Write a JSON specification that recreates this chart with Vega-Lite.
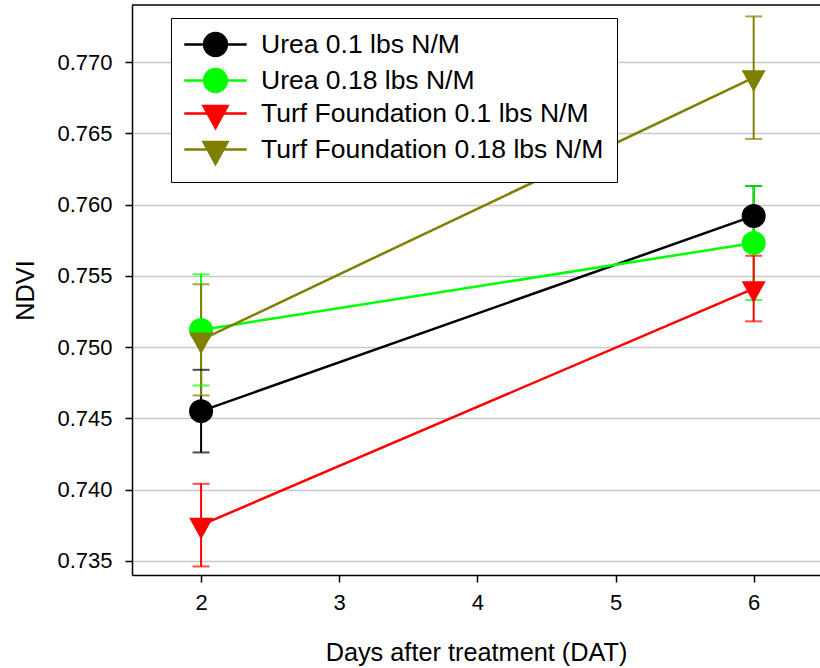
{
  "$schema": "https://vega.github.io/schema/vega-lite/v6.json",
  "width": 688,
  "height": 570,
  "autosize": {"type": "none"},
  "padding": {"left": 132, "top": 5, "right": 0, "bottom": 93},
  "background": "white",
  "config": {
    "view": {"stroke": null},
    "font": "Liberation Sans",
    "axis": {
      "domainColor": "black",
      "domainWidth": 1.5,
      "tickColor": "black",
      "tickWidth": 1.5,
      "tickSize": 7,
      "labelFont": "Liberation Sans",
      "labelFontSize": 22,
      "labelColor": "black",
      "titleFont": "Liberation Sans",
      "titleFontSize": 25.3,
      "titleFontWeight": "normal",
      "titleColor": "black"
    },
    "legend": {
      "orient": "none",
      "legendX": 39,
      "legendY": 13,
      "padding": 13,
      "strokeColor": "black",
      "fillColor": "white",
      "labelFont": "Liberation Sans",
      "labelFontSize": 26.5,
      "labelColor": "black",
      "labelLimit": 600,
      "symbolSize": 576,
      "symbolOffset": 18,
      "labelOffset": 32,
      "rowPadding": 3
    }
  },
  "data": {
    "values": [
      {"series": "Urea 0.1 lbs N/M", "fert": "Urea", "dat": 2, "ndvi": 0.7455, "lo": 0.7426, "hi": 0.7484},
      {"series": "Urea 0.1 lbs N/M", "fert": "Urea", "dat": 6, "ndvi": 0.7592, "lo": 0.7571, "hi": 0.7613},
      {"series": "Urea 0.18 lbs N/M", "fert": "Urea", "dat": 2, "ndvi": 0.7512, "lo": 0.7473, "hi": 0.7551},
      {"series": "Urea 0.18 lbs N/M", "fert": "Urea", "dat": 6, "ndvi": 0.7573, "lo": 0.7533, "hi": 0.7613},
      {"series": "Turf Foundation 0.1 lbs N/M", "fert": "Turf", "dat": 2, "ndvi": 0.7375, "lo": 0.7346, "hi": 0.7404},
      {"series": "Turf Foundation 0.1 lbs N/M", "fert": "Turf", "dat": 6, "ndvi": 0.7541, "lo": 0.7518, "hi": 0.7564},
      {"series": "Turf Foundation 0.18 lbs N/M", "fert": "Turf", "dat": 2, "ndvi": 0.7505, "lo": 0.7466, "hi": 0.7544},
      {"series": "Turf Foundation 0.18 lbs N/M", "fert": "Turf", "dat": 6, "ndvi": 0.7689, "lo": 0.7646, "hi": 0.7732}
    ]
  },
  "layer": [
    {
      "mark": {"type": "line", "strokeWidth": 2.5},
      "encoding": {
        "x": {"field": "dat", "type": "quantitative", "title": "Days after treatment (DAT)",
              "scale": {"domain": [1.5, 6.48], "nice": false, "zero": false},
              "axis": {"values": [2, 3, 4, 5, 6], "format": "d", "grid": false, "labelPadding": 10, "titlePadding": 27}},
        "y": {"field": "ndvi", "type": "quantitative", "title": "NDVI",
              "scale": {"domain": [0.734, 0.774], "nice": false, "zero": false},
              "axis": {"values": [0.735, 0.74, 0.745, 0.75, 0.755, 0.76, 0.765, 0.77], "format": ".3f", "grid": true, "gridColor": "#c8c8c8", "gridWidth": 1.5, "labelPadding": 13, "titlePadding": 18}},
        "color": {"field": "series", "type": "nominal", "title": null,
                  "scale": {"domain": ["Urea 0.1 lbs N/M", "Urea 0.18 lbs N/M", "Turf Foundation 0.1 lbs N/M", "Turf Foundation 0.18 lbs N/M"], "range": ["#000000", "#00ff00", "#ff0000", "#808000"]},
                  "legend": {
                    "encode": {
                      "symbols": {
                        "update": {
                          "shape": {"signal": "indexof(datum.value, 'Urea') === 0 ? 'M-2.6,0L2.6,0M0.95,0A0.95,0.95,0,1,1,-0.95,0A0.95,0.95,0,1,1,0.95,0Z' : 'M-2.6,0L2.6,0M-1,-0.62L1,-0.62L0,1.2Z'"},
                          "fill": {"scale": "color", "field": "value"},
                          "stroke": {"scale": "color", "field": "value"},
                          "strokeWidth": {"value": 2.5},
                          "opacity": {"value": 1},
                          "fillOpacity": {"value": 1}
                        }
                      }
                    }
                  }}
      }
    },
    {
      "mark": {"type": "rule", "strokeWidth": 2},
      "encoding": {
        "x": {"field": "dat", "type": "quantitative", "title": "Days after treatment (DAT)"},
        "y": {"field": "lo", "type": "quantitative", "title": "NDVI"},
        "y2": {"field": "hi"},
        "color": {"field": "series", "type": "nominal", "title": null}
      }
    },
    {
      "mark": {"type": "tick", "orient": "horizontal", "size": 17, "thickness": 2},
      "encoding": {
        "x": {"field": "dat", "type": "quantitative", "title": "Days after treatment (DAT)"},
        "y": {"field": "lo", "type": "quantitative", "title": "NDVI"},
        "color": {"field": "series", "type": "nominal", "title": null}
      }
    },
    {
      "mark": {"type": "tick", "orient": "horizontal", "size": 17, "thickness": 2},
      "encoding": {
        "x": {"field": "dat", "type": "quantitative", "title": "Days after treatment (DAT)"},
        "y": {"field": "hi", "type": "quantitative", "title": "NDVI"},
        "color": {"field": "series", "type": "nominal", "title": null}
      }
    },
    {
      "mark": {"type": "point", "filled": true, "size": 576, "opacity": 1, "shape": "circle"},
      "transform": [{"filter": "datum.fert === 'Urea'"}],
      "encoding": {
        "x": {"field": "dat", "type": "quantitative", "title": "Days after treatment (DAT)"},
        "y": {"field": "ndvi", "type": "quantitative", "title": "NDVI"},
        "color": {"field": "series", "type": "nominal", "title": null}
      }
    },
    {
      "mark": {"type": "point", "filled": true, "size": 576, "opacity": 1, "shape": "M-1,-0.62L1,-0.62L0,1.2Z"},
      "transform": [{"filter": "datum.fert === 'Turf'"}],
      "encoding": {
        "x": {"field": "dat", "type": "quantitative", "title": "Days after treatment (DAT)"},
        "y": {"field": "ndvi", "type": "quantitative", "title": "NDVI"},
        "color": {"field": "series", "type": "nominal", "title": null}
      }
    },
    {
      "data": {"values": [{"edge": "top"}]},
      "mark": {"type": "rule", "color": "black", "strokeWidth": 1.5},
      "encoding": {"y": {"datum": 0.774}}
    }
  ]
}
